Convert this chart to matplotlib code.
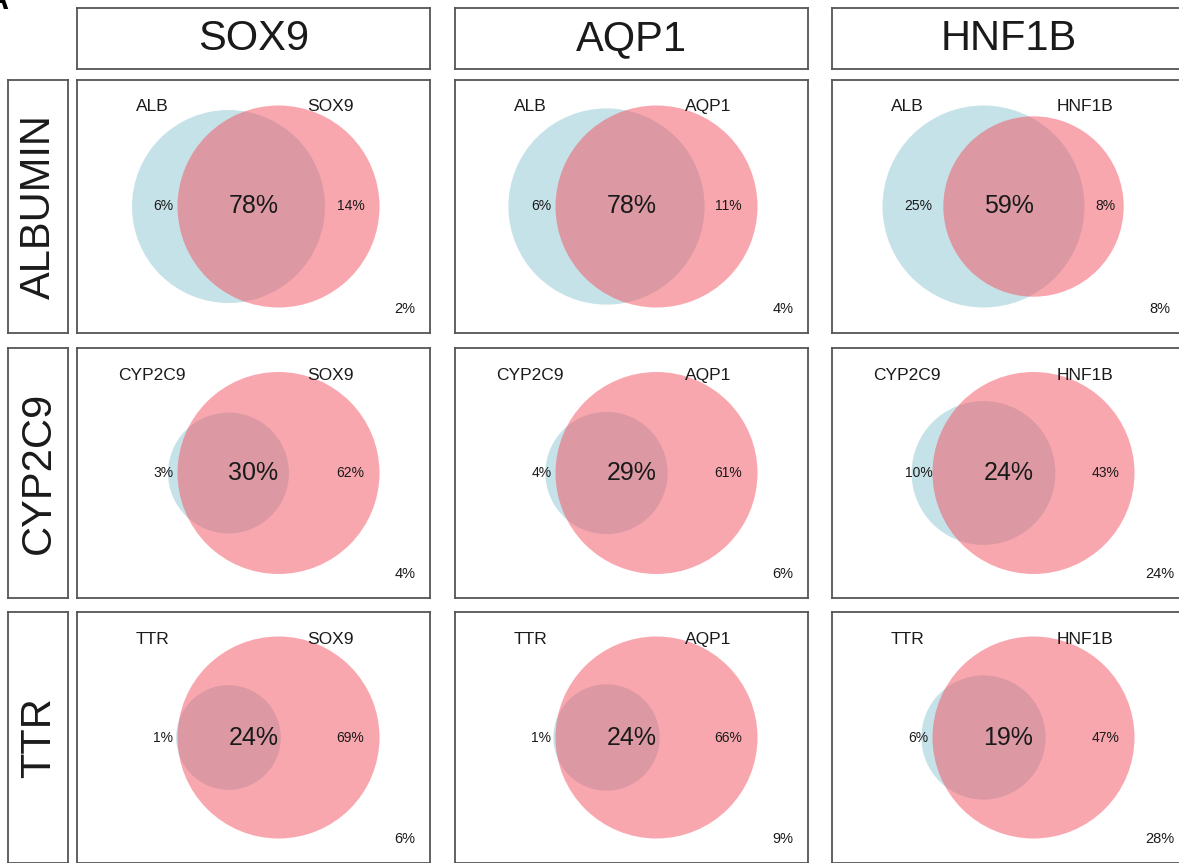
import numpy as np
import matplotlib.pyplot as plt
from matplotlib.patches import Circle

plt.rcParams['font.family'] = ['Liberation Sans', 'DejaVu Sans']

col_genes = ['SOX9', 'AQP1', 'HNF1B']
row_titles = ['ALBUMIN', 'CYP2C9', 'TTR']
row_genes = ['ALB', 'CYP2C9', 'TTR']

# percent of cells in each region: row marker only, both, column marker only, neither
row_only = [[6, 6, 25], [3, 4, 10], [1, 1, 6]]
both = [[78, 78, 59], [30, 29, 24], [24, 24, 19]]
col_only = [[14, 11, 8], [62, 61, 43], [69, 66, 47]]
neither = [[2, 4, 8], [4, 6, 24], [6, 9, 28]]

W, H = 1179, 863
col_x = [77, 455, 832]
col_w = 353
row_y = [80, 348, 612]
row_h = [253, 250, 251]

edge = '#555555'
ink = '#1a1a1a'
blue = '#8fc7d5'
red = '#f5515f'
R_MAX = 101      # radius of the larger circle in each panel
SPACING = 50     # distance between the two circle centres


def radii(a_only, ab, b_only):
    # circle areas follow the set sizes
    area_a = a_only + ab
    area_b = b_only + ab
    big = max(area_a, area_b)
    return R_MAX * np.sqrt(area_a / big), R_MAX * np.sqrt(area_b / big)


def box_axes(x, y, w, h):
    ax = fig.add_axes([x / W, 1 - (y + h) / H, w / W, h / H])
    ax.set_xlim(0, w)
    ax.set_ylim(0, h)
    ax.set_xticks([])
    ax.set_yticks([])
    for s in ax.spines.values():
        s.set_color(edge)
        s.set_linewidth(1.3)
    return ax


fig = plt.figure(figsize=(W / 100, H / 100), dpi=100)

fig.text(8 / W, 1 - 9 / H, 'A', ha='right', va='baseline',
         fontsize=22, fontweight='bold', color='black')

# column headers
for j, gene in enumerate(col_genes):
    ax = box_axes(col_x[j], 8, col_w, 61)
    ax.text(col_w / 2, 30, gene, ha='center', va='center', fontsize=30, color=ink)

# row headers
for i, title in enumerate(row_titles):
    ax = box_axes(8, row_y[i], 60, row_h[i])
    ax.text(31, row_h[i] / 2, title, ha='center', va='center', rotation=90,
            fontsize=30, color=ink)

for i in range(3):
    for j in range(3):
        h = row_h[i]
        ax = box_axes(col_x[j], row_y[i], col_w, h)
        r1, r2 = radii(row_only[i][j], both[i][j], col_only[i][j])
        cx, cy = col_w / 2, h / 2
        ax.add_patch(Circle((cx - SPACING / 2, cy), r1, facecolor=blue,
                            edgecolor='none', alpha=0.5))
        ax.add_patch(Circle((cx + SPACING / 2, cy), r2, facecolor=red,
                            edgecolor='none', alpha=0.5))

        ax.text(0.213 * col_w, h - 27, row_genes[i], ha='center', va='center',
                fontsize=12.5, color=ink)
        ax.text(0.718 * col_w, h - 27, col_genes[j], ha='center', va='center',
                fontsize=12.5, color=ink)

        ax.text(0.245 * col_w, cy, f'{row_only[i][j]}%', ha='center', va='center',
                fontsize=10, color=ink)
        ax.text(0.5 * col_w, cy, f'{both[i][j]}%', ha='center', va='center',
                fontsize=18, color=ink)
        ax.text(0.775 * col_w, cy, f'{col_only[i][j]}%', ha='center', va='center',
                fontsize=10, color=ink)
        ax.text(col_w - 25, 24, f'{neither[i][j]}%', ha='center', va='center',
                fontsize=10.5, color=ink)

fig.savefig('out.png', dpi=100)
